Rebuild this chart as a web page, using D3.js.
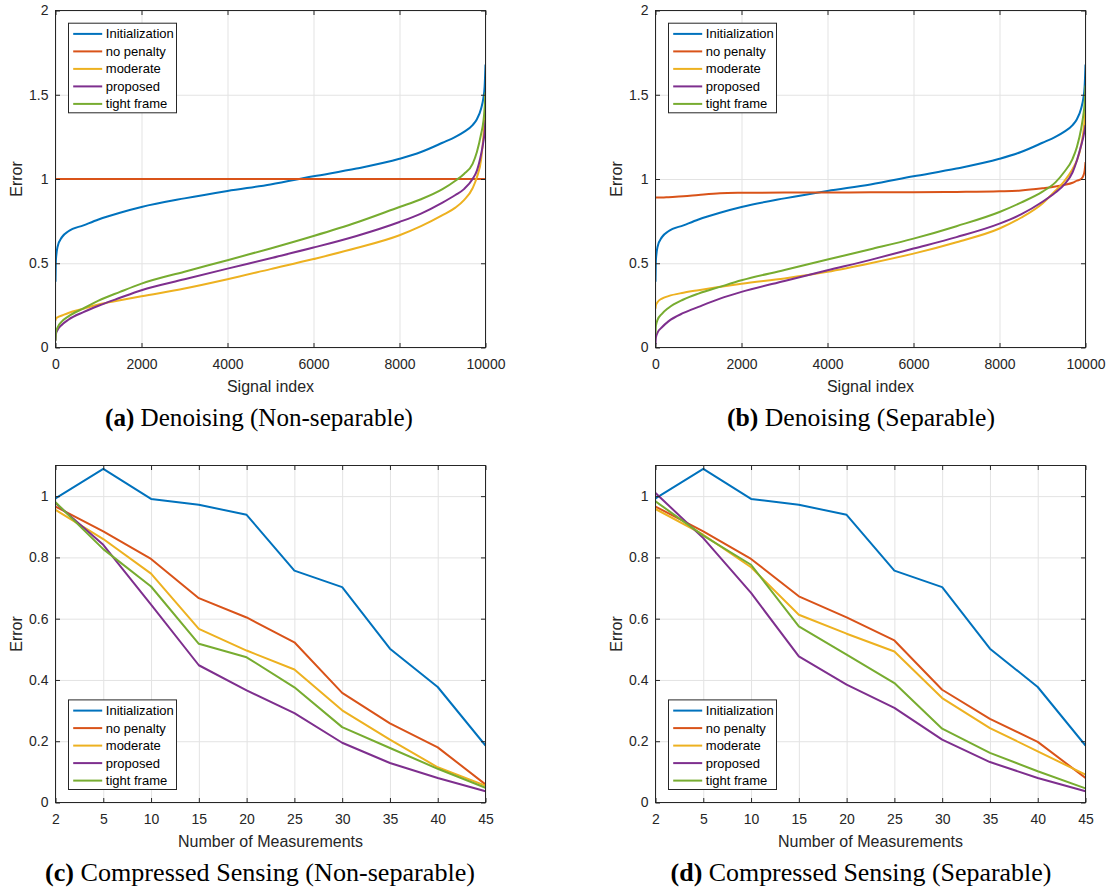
<!DOCTYPE html>
<html>
<head>
<meta charset="utf-8">
<script src="https://cdnjs.cloudflare.com/ajax/libs/d3/7.8.5/d3.min.js"></script>
<style>
    body { margin: 0; background: #fff; }
    svg { display: block; font-family: "Liberation Sans", Arial, Helvetica, sans-serif; }
    .tick text { fill: #262626; font-size: 14px; }
    .tick line { stroke: #262626; }
    .grid .tick line { stroke: #e3e3e3; }
    .domain { display: none; }
</style>
</head>
<body>
<script>
// legend entries, same order in all four panels
const methods = ["Initialization", "no penalty", "moderate", "proposed", "tight frame"];
const colors = ["#0072BD", "#D95319", "#EDB120", "#7E2F8E", "#77AC30"];

// ---- denoising: sorted error per signal (sampled along the index) ----
const signalIdx = [0, 10, 50, 150, 300, 650, 1000, 1500, 2000, 3000, 4000, 5000, 6000, 7000, 8000, 8500, 9000, 9300, 9500, 9700, 9800, 9900, 9950, 9980, 10000];
const xTicksDenoise = [0, 2000, 4000, 6000, 8000, 10000];
const yTicksDenoise = [0, 0.5, 1, 1.5, 2];

const dnInit = [0.39, 0.52, 0.60, 0.655, 0.69, 0.725, 0.76, 0.80, 0.834, 0.885, 0.929, 0.968, 1.016, 1.062, 1.12, 1.16, 1.215, 1.25, 1.28, 1.32, 1.355, 1.42, 1.48, 1.55, 1.68];

// (a) non-separable
const dnNoPenaltyA = [1, 1, 1, 1, 1, 1, 1, 1, 1, 1, 1, 1, 1, 1, 1, 1, 1, 1, 1, 1, 1, 1, 1, 1, 1];
const dnModerateA = [0.16, 0.17, 0.18, 0.19, 0.205, 0.23, 0.255, 0.28, 0.304, 0.35, 0.405, 0.465, 0.525, 0.59, 0.666, 0.72, 0.785, 0.83, 0.875, 0.945, 1.01, 1.12, 1.25, 1.38, 1.5];
const dnProposedA = [0.04, 0.08, 0.105, 0.135, 0.165, 0.21, 0.248, 0.295, 0.34, 0.405, 0.468, 0.53, 0.593, 0.662, 0.745, 0.795, 0.86, 0.905, 0.94, 1.0, 1.05, 1.15, 1.22, 1.28, 1.35];
const dnTightA = [0.04, 0.09, 0.12, 0.155, 0.185, 0.232, 0.278, 0.33, 0.379, 0.45, 0.518, 0.588, 0.662, 0.742, 0.834, 0.88, 0.94, 0.99, 1.03, 1.09, 1.16, 1.27, 1.34, 1.42, 1.515];

// (b) separable
const dnNoPenaltyB = [0.89, 0.89, 0.89, 0.89, 0.892, 0.897, 0.905, 0.915, 0.918, 0.92, 0.92, 0.921, 0.921, 0.923, 0.927, 0.932, 0.945, 0.955, 0.965, 0.978, 0.99, 1.0, 1.02, 1.05, 1.1];
const dnModerateB = [0.23, 0.25, 0.27, 0.29, 0.305, 0.325, 0.34, 0.36, 0.379, 0.41, 0.449, 0.5, 0.557, 0.625, 0.706, 0.77, 0.855, 0.93, 0.985, 1.06, 1.11, 1.2, 1.28, 1.35, 1.42];
const dnProposedB = [0.02, 0.06, 0.09, 0.12, 0.155, 0.205, 0.241, 0.29, 0.33, 0.395, 0.458, 0.52, 0.587, 0.655, 0.735, 0.79, 0.865, 0.92, 0.965, 1.04, 1.11, 1.2, 1.25, 1.29, 1.32];
const dnTightB = [0.08, 0.13, 0.165, 0.2, 0.235, 0.285, 0.32, 0.36, 0.399, 0.46, 0.522, 0.583, 0.646, 0.72, 0.804, 0.86, 0.925, 0.98, 1.04, 1.12, 1.19, 1.3, 1.38, 1.45, 1.555];

// ---- compressed sensing: error vs number of measurements ----
const measurements = ["2", "5", "10", "15", "20", "25", "30", "35", "40", "45"];
const yTicksCS = [0, 0.2, 0.4, 0.6, 0.8, 1];

const csInit = [0.993, 1.089, 0.991, 0.972, 0.939, 0.757, 0.703, 0.502, 0.377, 0.186];

// (c) non-separable
const csNoPenaltyC = [0.966, 0.885, 0.795, 0.667, 0.604, 0.523, 0.358, 0.258, 0.180, 0.059];
const csModerateC = [0.955, 0.860, 0.747, 0.567, 0.496, 0.434, 0.301, 0.205, 0.115, 0.055];
const csProposedC = [0.977, 0.841, 0.646, 0.448, 0.366, 0.292, 0.195, 0.129, 0.080, 0.037];
const csTightC = [0.980, 0.827, 0.705, 0.518, 0.474, 0.376, 0.246, 0.178, 0.110, 0.048];

// (d) separable
const csNoPenaltyD = [0.966, 0.885, 0.795, 0.673, 0.604, 0.529, 0.368, 0.273, 0.198, 0.080];
const csModerateD = [0.958, 0.874, 0.768, 0.613, 0.551, 0.493, 0.341, 0.243, 0.167, 0.091];
const csProposedD = [1.010, 0.863, 0.684, 0.477, 0.385, 0.309, 0.205, 0.132, 0.080, 0.037];
const csTightD = [0.983, 0.871, 0.776, 0.575, 0.483, 0.390, 0.241, 0.162, 0.102, 0.046];


var svg = d3.select("body").append("svg")
    .attr("width", 1108)
    .attr("height", 893);

var plotW = 430,
    plotH = 337,
    tickLen = 4.5;

var clipCount = 0;

function drawPanel(opt) {
    var left = opt.left, top = opt.top;
    var g = svg.append("g");

    var x;
    if (opt.categorical) {
        x = d3.scalePoint().domain(opt.xDomain).range([left, left + plotW]);
    } else {
        x = d3.scaleLinear().domain(opt.xDomain).range([left, left + plotW]);
    }
    var y = d3.scaleLinear().domain(opt.yDomain).range([top + plotH, top]);

    //grid lines under everything
    g.append("g")
        .attr("class", "grid")
        .attr("transform", "translate(0," + (top + plotH) + ")")
        .call(d3.axisBottom(x).tickValues(opt.xTicks).tickSize(-plotH).tickFormat(""));
    g.append("g")
        .attr("class", "grid")
        .attr("transform", "translate(" + left + ",0)")
        .call(d3.axisLeft(y).tickValues(opt.yTicks).tickSize(-plotW).tickFormat(""));

    //series lines
    var clipId = "clip" + (clipCount++);
    g.append("clipPath").attr("id", clipId)
        .append("rect")
        .attr("x", left).attr("y", top)
        .attr("width", plotW).attr("height", plotH);

    var line = d3.line()
        .x(function (d) { return x(d[0]); })
        .y(function (d) { return y(d[1]); })
        .curve(opt.categorical ? d3.curveLinear : d3.curveMonotoneX);

    g.append("g")
        .attr("clip-path", "url(#" + clipId + ")")
        .selectAll("path")
        .data(opt.series)
        .enter().append("path")
        .attr("fill", "none")
        .attr("stroke", function (d, i) { return colors[i]; })
        .attr("stroke-width", 2)
        .attr("stroke-linejoin", "round")
        .attr("d", function (vals) {
            return line(opt.xValues.map(function (xv, j) { return [xv, vals[j]]; }));
        });

    //box
    g.append("rect")
        .attr("x", left).attr("y", top)
        .attr("width", plotW).attr("height", plotH)
        .attr("fill", "none")
        .attr("stroke", "#262626")
        .attr("stroke-width", 1);

    //axes, ticks pointing inwards on all four sides
    var xAxis = d3.axisBottom(x).tickValues(opt.xTicks).tickSize(-tickLen).tickPadding(12);
    if (!opt.categorical) xAxis.tickFormat(d3.format("d"));
    g.append("g")
        .attr("transform", "translate(0," + (top + plotH) + ")")
        .call(xAxis);
    g.append("g")
        .attr("transform", "translate(0," + top + ")")
        .call(d3.axisTop(x).tickValues(opt.xTicks).tickSize(-tickLen).tickFormat(""));
    g.append("g")
        .attr("transform", "translate(" + left + ",0)")
        .call(d3.axisLeft(y).tickValues(opt.yTicks).tickSize(-tickLen).tickPadding(7)
            .tickFormat(d3.format("~g")));
    g.append("g")
        .attr("transform", "translate(" + (left + plotW) + ",0)")
        .call(d3.axisRight(y).tickValues(opt.yTicks).tickSize(-tickLen).tickFormat(""));

    //axis labels
    g.append("text")
        .attr("x", left + plotW / 2)
        .attr("y", top + plotH + 39)
        .attr("dy", "0.35em")
        .attr("text-anchor", "middle")
        .attr("fill", "#262626")
        .style("font-size", "16px")
        .text(opt.xLabel);
    g.append("text")
        .attr("transform", "translate(" + (left - 39) + "," + (top + plotH / 2) + ") rotate(-90)")
        .attr("dy", "0.35em")
        .attr("text-anchor", "middle")
        .attr("fill", "#262626")
        .style("font-size", "16px")
        .text("Error");

    //legend
    var lgTop = opt.legendBottom ? top + plotH - 13 - 89.6 : top + 12.7;
    var lg = g.append("g").attr("transform", "translate(" + (left + 13) + "," + lgTop + ")");
    lg.append("rect")
        .attr("width", 108).attr("height", 89.6)
        .attr("fill", "#fff")
        .attr("stroke", "#262626")
        .attr("stroke-width", 1);
    var item = lg.selectAll("g.item")
        .data(methods)
        .enter().append("g")
        .attr("class", "item")
        .attr("transform", function (d, i) { return "translate(0," + (10.7 + i * 17.5) + ")"; });
    item.append("line")
        .attr("x1", 4.7).attr("x2", 33.7)
        .attr("stroke", function (d, i) { return colors[i]; })
        .attr("stroke-width", 2);
    item.append("text")
        .attr("x", 37.3)
        .attr("dy", "0.35em")
        .attr("fill", "#000")
        .style("font-size", "13px")
        .text(function (d) { return d; });

    //caption below the panel
    var cap = svg.append("text")
        .attr("x", opt.capCenter)
        .attr("y", opt.capBaseline)
        .attr("text-anchor", "middle")
        .attr("fill", "#000")
        .style("font-family", "'Liberation Serif', 'Times New Roman', serif")
        .style("font-size", "22px");
    cap.append("tspan").attr("font-weight", "bold").text(opt.capTag);
    cap.append("tspan").text(" " + opt.caption);
    //scale the font so the caption spans the same width as the original
    var w = cap.node().getComputedTextLength();
    if (w > 0) cap.style("font-size", (22 * opt.capWidth / w) + "px");
}

drawPanel({
    left: 55.5, top: 10.5,
    xDomain: [0, 10000], xTicks: xTicksDenoise, xValues: signalIdx,
    yDomain: [0, 2], yTicks: yTicksDenoise,
    series: [dnInit, dnNoPenaltyA, dnModerateA, dnProposedA, dnTightA],
    xLabel: "Signal index",
    capTag: "(a)", caption: "Denoising (Non-separable)",
    capCenter: 259, capBaseline: 426, capWidth: 308
});

drawPanel({
    left: 655.5, top: 10.5,
    xDomain: [0, 10000], xTicks: xTicksDenoise, xValues: signalIdx,
    yDomain: [0, 2], yTicks: yTicksDenoise,
    series: [dnInit, dnNoPenaltyB, dnModerateB, dnProposedB, dnTightB],
    xLabel: "Signal index",
    capTag: "(b)", caption: "Denoising (Separable)",
    capCenter: 861, capBaseline: 426, capWidth: 268
});

drawPanel({
    left: 55.5, top: 465.5, categorical: true,
    xDomain: measurements, xTicks: measurements, xValues: measurements,
    yDomain: [0, 1.1], yTicks: yTicksCS,
    series: [csInit, csNoPenaltyC, csModerateC, csProposedC, csTightC],
    xLabel: "Number of Measurements", legendBottom: true,
    capTag: "(c)", caption: "Compressed Sensing (Non-separable)",
    capCenter: 260, capBaseline: 881, capWidth: 430
});

drawPanel({
    left: 655.5, top: 465.5, categorical: true,
    xDomain: measurements, xTicks: measurements, xValues: measurements,
    yDomain: [0, 1.1], yTicks: yTicksCS,
    series: [csInit, csNoPenaltyD, csModerateD, csProposedD, csTightD],
    xLabel: "Number of Measurements", legendBottom: true,
    capTag: "(d)", caption: "Compressed Sensing (Separable)",
    capCenter: 861, capBaseline: 881, capWidth: 381
});
</script>
</body>
</html>
